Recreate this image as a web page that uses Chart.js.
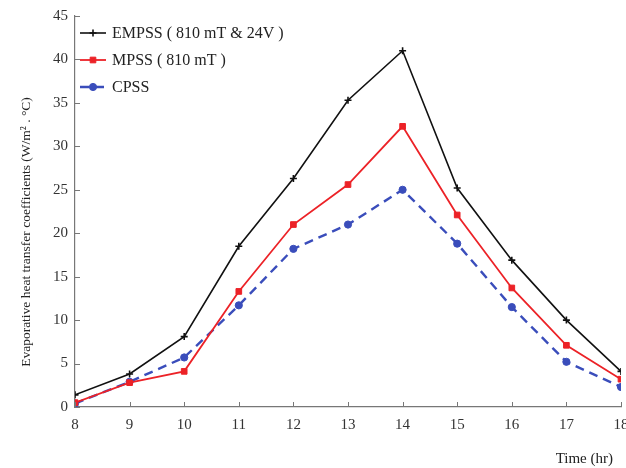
<!DOCTYPE html>
<html><head><meta charset="utf-8">
<script src="https://cdn.jsdelivr.net/npm/chart.js@4"></script>
<style>html,body{margin:0;padding:0;overflow:hidden;background:#fff;width:626px;height:468px}#wrap{width:640px;height:468px}</style>
</head><body><div id="wrap"><canvas id="c" width="640" height="468"></canvas></div>
<script>
const hours = [8,9,10,11,12,13,14,15,16,17,18];
const empss = [1.4,3.8,8.1,18.5,26.3,35.3,41.0,25.2,16.9,10.0,4.1];
const mpss  = [0.5,2.8,4.1,13.3,21.0,25.6,32.3,22.1,13.7,7.1,3.2];
const cpss  = [0.4,2.9,5.7,11.7,18.2,21.0,25.0,18.8,11.5,5.2,2.3];
const seriesNames = ['EMPSS ( 810 mT & 24V )','MPSS ( 810 mT )','CPSS'];
const xTicks = [8,9,10,11,12,13,14,15,16,17,18];
const yTicks = [0,5,10,15,20,25,30,35,40,45];
const xTitle = 'Time (hr)';
const yTitle = 'Evaporative heat transfer coefficients (W/m\u00B2 . \u00B0C)';

const FONT = '"Liberation Serif", "DejaVu Serif", serif';
const toPts = a => a.map((v,i)=>({x:hours[i], y:v}));

const decor = {
  id:'decor',
  afterDraw(chart){
    const ctx = chart.ctx, xs = chart.scales.x, ys = chart.scales.y, ca = chart.chartArea;
    ctx.save();
    ctx.strokeStyle = '#777'; ctx.lineWidth = 1;
    ctx.beginPath();
    xTicks.forEach(v=>{const p=Math.round(xs.getPixelForValue(v))+0.5; ctx.moveTo(p,ca.bottom); ctx.lineTo(p,ca.bottom-5);});
    yTicks.forEach(v=>{const p=Math.round(ys.getPixelForValue(v))+0.5; ctx.moveTo(ca.left,p); ctx.lineTo(ca.left+5,p);});
    ctx.stroke();
    ctx.fillStyle = '#222';
    ctx.font = '15px ' + FONT;
    ctx.textAlign = 'right'; ctx.textBaseline = 'middle';
    ctx.fillText(xTitle, 613, 459);
    ctx.save();
    ctx.font = '13.5px ' + FONT;
    ctx.translate(26, 232); ctx.rotate(-Math.PI/2);
    ctx.textAlign = 'center';
    ctx.fillText(yTitle, 0, 0);
    ctx.restore();
    const ds = chart.data.datasets;
    const ys0 = [33, 60, 87];
    ds.forEach((d,i)=>{
      const y = ys0[i];
      ctx.save();
      ctx.strokeStyle = d.borderColor; ctx.lineWidth = d.borderWidth;
      ctx.setLineDash(d.borderDash || []);
      ctx.beginPath(); ctx.moveTo(80,y); ctx.lineTo(106,y); ctx.stroke();
      ctx.restore();
      ctx.save();
      ctx.fillStyle = d.pointBackgroundColor; ctx.strokeStyle = d.pointBorderColor;
      ctx.lineWidth = d.pointBorderWidth; ctx.setLineDash([]);
      Chart.helpers.drawPoint(ctx, {pointStyle:d.pointStyle, radius:d.pointRadius, borderWidth:d.pointBorderWidth}, 93, y);
      ctx.restore();
      ctx.fillStyle = '#222'; ctx.textAlign='left'; ctx.textBaseline='middle';
      ctx.font = '16px ' + FONT;
      ctx.fillText(seriesNames[i], 112, y+1);
    });
    ctx.restore();
  }
};

new Chart(document.getElementById('c'), {
  type:'line',
  data:{datasets:[
    {label:seriesNames[0], data:toPts(empss), borderColor:'#111', backgroundColor:'#111', borderWidth:1.6,
     pointStyle:'cross', pointRadius:3.5, pointBorderWidth:1.6, pointBorderColor:'#111', pointBackgroundColor:'#111'},
    {label:seriesNames[1], data:toPts(mpss), borderColor:'#ec2227', backgroundColor:'#ec2227', borderWidth:1.8,
     pointStyle:'rect', pointRadius:4, pointBorderWidth:1, pointBorderColor:'#ec2227', pointBackgroundColor:'#ec2227'},
    {label:seriesNames[2], data:toPts(cpss), borderColor:'#3a4dbb', backgroundColor:'#3a4dbb', borderWidth:2.4, borderDash:[9,6],
     pointStyle:'circle', pointRadius:3.6, pointBorderWidth:1, pointBorderColor:'#3a4dbb', pointBackgroundColor:'#3a4dbb'}
  ]},
  options:{
    responsive:false, animation:false, devicePixelRatio:1,
    layout:{padding:{left:0,top:15,right:19,bottom:0}},
    plugins:{legend:{display:false}, tooltip:{enabled:false}},
    elements:{line:{tension:0}},
    scales:{
      x:{type:'linear', min:8, max:18,
         afterBuildTicks(s){ s.ticks = xTicks.map(v=>({value:v})); },
         afterFit(s){ s.height = 61; },
         border:{display:true,color:'#777',width:1.2},
         grid:{display:true, drawOnChartArea:false, drawTicks:false},
         ticks:{padding:9, color:'#333', font:{family:FONT,size:15}, maxRotation:0, autoSkip:false}},
      y:{type:'linear', min:0, max:45,
         afterBuildTicks(s){ s.ticks = yTicks.map(v=>({value:v})); },
         afterFit(s){ s.width = 75; },
         border:{display:true,color:'#777',width:1.2},
         grid:{display:true, drawOnChartArea:false, drawTicks:false},
         ticks:{padding:7, color:'#333', font:{family:FONT,size:15}}}
    }
  },
  plugins:[decor]
});
</script>
</body></html>
